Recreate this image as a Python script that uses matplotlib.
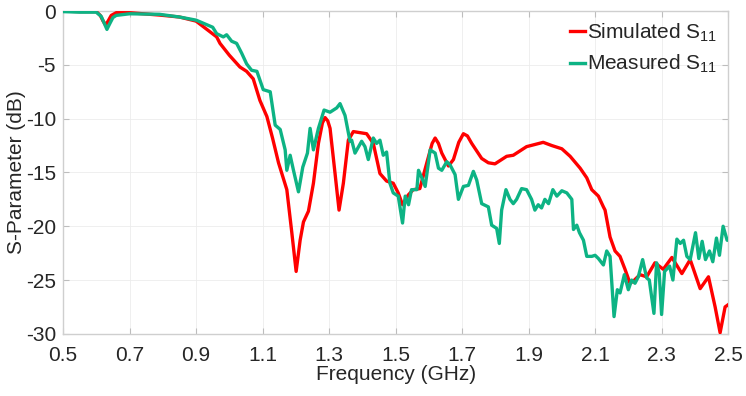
import matplotlib
matplotlib.use("Agg")
import matplotlib.pyplot as plt
import numpy as np

# Simulated S11 (GHz, dB)
sim_f = [0.50, 0.55, 0.60, 0.612, 0.620, 0.628, 0.636, 0.645, 0.66, 0.70, 0.79, 0.85, 0.90,
         0.962, 0.972, 1.000, 1.032, 1.052, 1.072, 1.092, 1.113, 1.130, 1.148, 1.173, 1.188,
         1.201, 1.213, 1.223, 1.238, 1.253, 1.268, 1.280, 1.288, 1.296, 1.303, 1.318, 1.330,
         1.343, 1.358, 1.373, 1.393, 1.413, 1.433, 1.453, 1.473, 1.493, 1.508, 1.521, 1.538,
         1.553, 1.573, 1.594, 1.610, 1.619, 1.629, 1.639, 1.659, 1.674, 1.690, 1.704, 1.716,
         1.729, 1.759, 1.779, 1.799, 1.834, 1.854, 1.894, 1.919, 1.944, 1.970, 2.000, 2.025,
         2.055, 2.075, 2.090, 2.110, 2.125, 2.130, 2.145, 2.160, 2.175, 2.190, 2.205, 2.215,
         2.235, 2.255, 2.280, 2.305, 2.331, 2.361, 2.386, 2.416, 2.441, 2.461, 2.476, 2.491,
         2.500]
sim_db = [0.0, -0.05, -0.05, -0.4, -0.9, -1.3, -0.9, -0.4, -0.15, -0.15, -0.37, -0.55, -0.93,
          -2.4, -3.0, -4.1, -5.2, -5.6, -6.3, -8.3, -9.8, -11.8, -14.1, -16.6, -20.6,
          -24.2, -21.3, -19.6, -18.6, -16.0, -12.3, -10.4, -9.9, -10.2, -10.9, -15.1, -18.5,
          -16.0, -12.0, -11.2, -11.3, -11.4, -12.3, -15.1, -15.8, -16.0, -16.9, -18.0, -17.1,
          -16.6, -16.5, -14.1, -12.3, -11.8, -12.3, -13.2, -14.4, -13.8, -12.2, -11.4, -11.6,
          -12.3, -13.7, -14.1, -14.2, -13.5, -13.4, -12.6, -12.4, -12.2, -12.5, -12.8, -13.5,
          -14.6, -15.5, -16.6, -17.2, -18.2, -18.5, -21.0, -22.3, -22.8, -24.0, -25.3, -25.1,
          -24.5, -24.7, -23.4, -24.0, -22.9, -24.4, -23.1, -25.8, -24.7, -27.5, -29.9, -27.5,
          -27.3]

# Measured S11 (GHz, dB)
meas_f = [0.50, 0.55, 0.60, 0.615, 0.625, 0.632, 0.640, 0.650, 0.66, 0.70, 0.79, 0.85, 0.90,
          0.95, 0.962, 0.982, 0.992, 1.007, 1.022, 1.037, 1.052, 1.067, 1.083, 1.102, 1.123,
          1.138, 1.153, 1.168, 1.173, 1.183, 1.193, 1.208, 1.221, 1.235, 1.243, 1.253, 1.268,
          1.285, 1.303, 1.323, 1.333, 1.348, 1.363, 1.368, 1.378, 1.398, 1.408, 1.418, 1.433,
          1.443, 1.453, 1.463, 1.473, 1.483, 1.493, 1.508, 1.521, 1.529, 1.539, 1.548, 1.564,
          1.569, 1.579, 1.589, 1.604, 1.619, 1.629, 1.639, 1.654, 1.664, 1.679, 1.689, 1.704,
          1.719, 1.734, 1.744, 1.759, 1.779, 1.789, 1.804, 1.812, 1.819, 1.832, 1.844, 1.854,
          1.864, 1.879, 1.894, 1.909, 1.919, 1.929, 1.939, 1.949, 1.960, 1.973, 1.985, 2.000,
          2.015, 2.030, 2.035, 2.045, 2.053, 2.065, 2.075, 2.090, 2.100, 2.110, 2.125, 2.135,
          2.145, 2.157, 2.167, 2.175, 2.188, 2.200, 2.210, 2.220, 2.230, 2.243, 2.255, 2.263,
          2.277, 2.285, 2.293, 2.300, 2.309, 2.324, 2.334, 2.346, 2.356, 2.366, 2.376, 2.386,
          2.402, 2.412, 2.422, 2.432, 2.444, 2.454, 2.465, 2.474, 2.485, 2.497, 2.500]
meas_db = [-0.05, -0.1, -0.1, -0.5, -1.2, -1.7, -1.2, -0.6, -0.4, -0.25, -0.3, -0.55, -0.84,
           -1.5, -2.1, -2.4, -2.2, -2.8, -3.0, -3.9, -4.9, -5.5, -5.6, -7.3, -7.5,
           -10.6, -11.0, -12.9, -14.8, -13.4, -14.8, -16.8, -14.5, -13.2, -10.9, -12.9, -10.9,
           -9.2, -9.4, -9.0, -8.6, -9.7, -12.1, -12.0, -13.2, -12.1, -12.6, -13.8, -11.8,
           -12.3, -12.0, -13.4, -13.1, -16.0, -16.9, -17.2, -19.7, -17.2, -18.0, -16.6, -16.6,
           -14.8, -15.5, -16.3, -12.9, -13.2, -14.6, -14.8, -14.0, -14.3, -15.2, -17.5, -16.3,
           -16.2, -14.9, -15.7, -17.9, -18.2, -19.9, -20.2, -21.6, -18.5, -16.6, -17.5, -17.9,
           -17.5, -16.5, -16.6, -17.5, -18.5, -18.0, -18.3, -17.5, -17.9, -16.6, -17.2, -16.7,
           -16.9, -17.5, -20.3, -19.9, -20.6, -21.3, -22.8, -22.8, -22.7, -23.0, -23.6, -22.3,
           -22.8, -28.4, -25.9, -26.2, -24.5, -25.9, -25.0, -25.3, -24.7, -23.1, -24.8, -25.0,
           -28.1, -23.4, -24.4, -28.2, -24.2, -23.7, -25.0, -21.2, -21.6, -21.3, -22.8, -23.1,
           -20.6, -23.0, -21.4, -23.1, -22.3, -23.3, -21.1, -22.7, -20.0, -21.3, -21.3]

xticks = [0.5, 0.7, 0.9, 1.1, 1.3, 1.5, 1.7, 1.9, 2.1, 2.3, 2.5]
yticks = [0, -5, -10, -15, -20, -25, -30]
labels = ['Simulated S$_{\\mathregular{11}}$', 'Measured S$_{\\mathregular{11}}$']

plt.rcParams['font.family'] = ['Liberation Sans', 'DejaVu Sans']
plt.rcParams['mathtext.default'] = 'regular'

fig = plt.figure(figsize=(7.46, 3.96), dpi=100)
ax = fig.add_axes([0.0845, 0.157, 0.8915, 0.815])

ax.plot(sim_f, sim_db, color='#FF0000', lw=2.4, label=labels[0], zorder=3,
        solid_joinstyle='round')
ax.plot(meas_f, meas_db, color='#0DB384', lw=2.4, label=labels[1], zorder=4,
        solid_joinstyle='round')

ax.set_xlim(0.5, 2.5)
ax.set_ylim(-30, 0)
ax.set_xticks(xticks)
ax.set_xticklabels([f'{v:.1f}' for v in xticks])
ax.set_yticks(yticks)
ax.set_yticklabels([str(v) for v in yticks])
ax.grid(True, color='#ececec', lw=0.6)
ax.set_axisbelow(True)
for s in ax.spines.values():
    s.set_color('#cfcfcf')
    s.set_linewidth(1.0)
ax.tick_params(direction='in', length=4, color='#bdbdbd', labelsize=15,
               labelcolor='#262626', top=True, right=True)
ax.tick_params(axis='x', pad=9)
ax.tick_params(axis='y', pad=5)
ax.set_xlabel('Frequency (GHz)', fontsize=15, color='#262626', labelpad=0)
ax.set_ylabel('S-Parameter (dB)', fontsize=15, color='#262626')
ax.yaxis.set_label_coords(-0.055, 0.5)

leg = ax.legend(loc='upper right', frameon=False, fontsize=15, handlelength=0.75,
                handletextpad=0.1, labelspacing=0.45, borderaxespad=0.1)
for t in leg.get_texts():
    t.set_color('#262626')

fig.savefig('out.png', dpi=100)
